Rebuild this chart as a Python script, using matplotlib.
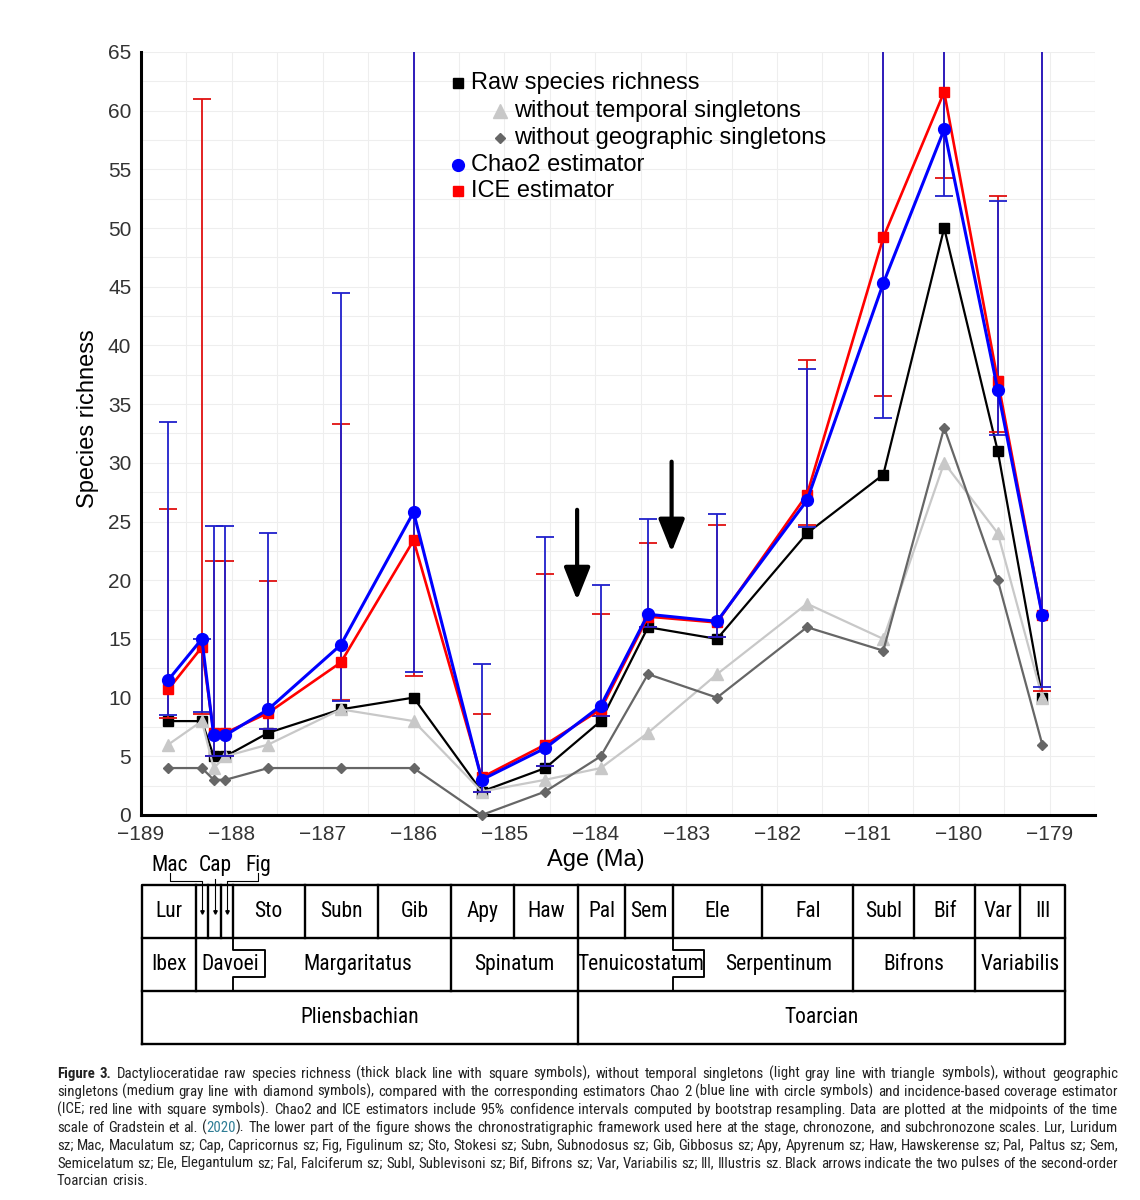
import numpy as np
import matplotlib
matplotlib.use("Agg")
import matplotlib.pyplot as plt
from matplotlib import font_manager

# ---- data ----
# ages are the subchronozone midpoints (Ma, negative = before present)
ages = [-188.70, -188.33, -188.20, -188.07, -187.60, -186.80, -186.00, -185.25,
        -184.55, -183.94, -183.42, -182.66, -181.67, -180.83, -180.16, -179.57, -179.08]
raw = [8, 8, 5, 5, 7, 9, 10, 2, 4, 8, 16, 15, 24, 29, 50, 31, 10]
no_temporal = [6, 8, 4, 5, 6, 9, 8, 2, 3, 4, 7, 12, 18, 15, 30, 24, 10]
no_geographic = [4, 4, 3, 3, 4, 4, 4, 0, 2, 5, 12, 10, 16, 14, 33, 20, 6]

chao2 = [11.5, 15.0, 6.8, 6.8, 9.0, 14.5, 25.8, 3.0, 5.7, 9.3, 17.1, 16.5, 26.8, 45.3, 58.4, 36.2, 17.0]
chao2_lo = [8.5, 8.8, 5.0, 5.0, 7.3, 9.7, 12.2, 2.0, 4.2, 8.4, 16.0, 15.2, 24.5, 33.8, 52.7, 32.4, 10.9]
chao2_hi = [33.5, 15.0, 24.6, 24.6, 24.0, 44.5, 80.0, 12.9, 23.7, 19.6, 25.2, 25.6, 38.0, 80.0, 80.0, 52.3, 80.0]

ice = [10.7, 14.3, 7.0, 7.0, 8.7, 13.0, 23.4, 3.2, 6.0, 9.0, 16.9, 16.4, 27.3, 49.2, 61.6, 37.0, 17.0]
ice_lo = [8.3, 8.6, 5.0, 5.0, 7.3, 9.8, 11.8, 2.0, 4.2, 8.4, 16.0, 15.2, 24.7, 35.7, 54.3, 32.6, 10.6]
ice_hi = [26.1, 61.0, 21.6, 21.6, 19.9, 33.3, 80.0, 8.6, 20.5, 17.1, 23.2, 24.7, 38.8, 80.0, 80.0, 52.7, 80.0]

# arrows (pulses of the Toarcian crisis): age, tail, head
arrow_ages = [-184.20, -183.16]
arrow_tail = [26.0, 30.1]
arrow_head = [18.3, 22.4]

# chronostratigraphic framework (Ma)
sub_edges = [-188.99, -188.40, -188.26, -188.12, -187.99, -187.20, -186.39, -185.59, -184.90,
             -184.19, -183.67, -183.15, -182.16, -181.16, -180.49, -179.82, -179.32, -178.83]
sub_labels = ["Lur", "", "", "", "Sto", "Subn", "Gib", "Apy", "Haw",
              "Pal", "Sem", "Ele", "Fal", "Subl", "Bif", "Var", "Ill"]
chrono_edges = [-188.99, -188.40, -187.99, -185.59, -184.19, -183.15, -181.16, -179.82, -178.83]
chrono_notch = {2: -187.64, 5: -182.80}
chrono_labels = ["Ibex", "Davoei", "Margaritatus", "Spinatum", "Tenuicostatum",
                 "Serpentinum", "Bifrons", "Variabilis"]
stage_edges = [-188.99, -184.19, -178.83]
stage_labels = ["Pliensbachian", "Toarcian"]

caption_lines = [
    "Figure 3. Dactylioceratidae raw species richness (thick black line with square symbols), without temporal singletons (light gray line with triangle symbols), without geographic",
    "singletons (medium gray line with diamond symbols), compared with the corresponding estimators Chao 2 (blue line with circle symbols) and incidence-based coverage estimator",
    "(ICE; red line with square symbols). Chao2 and ICE estimators include 95% confidence intervals computed by bootstrap resampling. Data are plotted at the midpoints of the time",
    "scale of Gradstein et al. (2020). The lower part of the figure shows the chronostratigraphic framework used here at the stage, chronozone, and subchronozone scales. Lur, Luridum",
    "sz; Mac, Maculatum sz; Cap, Capricornus sz; Fig, Figulinum sz; Sto, Stokesi sz; Subn, Subnodosus sz; Gib, Gibbosus sz; Apy, Apyrenum sz; Haw, Hawskerense sz; Pal, Paltus sz; Sem,",
    "Semicelatum sz; Ele, Elegantulum sz; Fal, Falciferum sz; Subl, Sublevisoni sz; Bif, Bifrons sz; Var, Variabilis sz; Ill, Illustris sz. Black arrows indicate the two pulses of the second-order",
    "Toarcian crisis.",
]

# ---- fonts ----
names = {f.name for f in font_manager.fontManager.ttflist}
main_font = "Liberation Sans"
narrow = None
for cand in ["Liberation Sans Narrow", "Roboto Condensed", "Open Sans Condensed", "Noto Sans Condensed"]:
    if cand in names:
        narrow = cand
        break
plt.rcParams["font.family"] = [main_font, "DejaVu Sans"]
table_font = narrow if narrow else main_font
table_fs = 15.5 if narrow else 13.5
cap_font = narrow if narrow else "Open Sans"

fig = plt.figure(figsize=(11.4, 12), dpi=100)

# ---- main plot ----
ax = fig.add_axes([141 / 1140, 385 / 1200, 954 / 1140, 763 / 1200])
ax.set_xlim(-189, -178.52)
ax.set_ylim(0, 65)
ax.set_xticks(range(-189, -178))
ax.set_yticks(range(0, 66, 5))
ax.set_xticks(np.arange(-189, -178.4, 0.5), minor=True)
ax.set_yticks(np.arange(0, 65.1, 2.5), minor=True)
ax.grid(which="both", color="#eeeeee", lw=0.8)
ax.set_axisbelow(True)
ax.tick_params(which="both", length=0, labelsize=15, labelcolor="#333333")
ax.tick_params(axis="x", pad=7)
ax.tick_params(axis="y", pad=7)
for s in ["top", "right"]:
    ax.spines[s].set_visible(False)
for s in ["left", "bottom"]:
    ax.spines[s].set_linewidth(2.2)

ax.plot(ages, raw, color="black", lw=1.6, marker="s", ms=7.5, zorder=3)
ax.plot(ages, no_temporal, color="#c8c8c8", lw=1.6, marker="^", ms=9, zorder=4)
ax.plot(ages, no_geographic, color="#666666", lw=1.6, marker="D", ms=5.5, zorder=4.5, clip_on=False)

ice_a = np.array(ice)
chao_a = np.array(chao2)
ax.errorbar(ages, ice, yerr=[ice_a - np.array(ice_lo), np.array(ice_hi) - ice_a], fmt="none",
            ecolor="#e01010", elinewidth=1.3, capsize=6.5, capthick=1.3, zorder=5)
ax.errorbar(ages, chao2, yerr=[chao_a - np.array(chao2_lo), np.array(chao2_hi) - chao_a], fmt="none",
            ecolor="#2020cc", elinewidth=1.3, capsize=6.5, capthick=1.3, zorder=5.1)
ax.plot(ages, ice, color="#ff0000", lw=1.9, marker="s", ms=7.5, zorder=6)
ax.plot(ages, chao2, color="#0000ff", lw=2.2, marker="o", ms=8.5, zorder=7)

for xa, yt, yh in zip(arrow_ages, arrow_tail, arrow_head):
    ax.annotate("", xy=(xa, yh), xytext=(xa, yt),
                arrowprops=dict(arrowstyle="-|>,head_length=0.8,head_width=0.32", color="black",
                                lw=3, mutation_scale=25, shrinkA=0, shrinkB=0), zorder=8)

ax.text(-0.0556, 0.519, "Species richness", transform=ax.transAxes, rotation=90,
        ha="center", va="center", fontsize=17)
ax.text(0.477, -0.059, "Age (Ma)", transform=ax.transAxes, ha="center", va="center", fontsize=17)

# legend drawn by hand (two entries are indented)
leg = [
    ("Raw species richness", "s", "black", 7.5, 0.332, 0.346, 0.959),
    ("without temporal singletons", "^", "#c8c8c8", 9.5, 0.376, 0.391, 0.923),
    ("without geographic singletons", "D", "#666666", 5.5, 0.376, 0.391, 0.887),
    ("Chao2 estimator", "o", "#0000ff", 8.5, 0.332, 0.346, 0.852),
    ("ICE estimator", "s", "#ff0000", 7.5, 0.332, 0.346, 0.818),
]
for label, mk, col, size, mx, tx, ty in leg:
    ax.plot([mx], [ty], transform=ax.transAxes, marker=mk, color=col, ms=size, ls="none", zorder=9)
    ax.text(tx, ty, label, transform=ax.transAxes, ha="left", va="center", fontsize=17, zorder=9)

# ---- chronostratigraphic table ----
tax = fig.add_axes([141 / 1140, 156 / 1200, 954 / 1140, 159 / 1200])
tax.set_xlim(ax.get_xlim())
tax.set_ylim(0, 3)
tax.axis("off")
lw_t = 1.7
x0, x1 = stage_edges[0], stage_edges[-1]
tax.plot([x0, x1, x1, x0, x0], [0, 0, 3, 3, 0], color="black", lw=lw_t, clip_on=False)
for yy in [1, 2]:
    tax.plot([x0, x1], [yy, yy], color="black", lw=lw_t, clip_on=False)
tf = dict(family=[table_font, "DejaVu Sans"], fontsize=table_fs, ha="center", va="center")

for i, lab in enumerate(sub_labels):
    if i > 0:
        tax.plot([sub_edges[i]] * 2, [2, 3], color="black", lw=lw_t, clip_on=False)
    if lab:
        tax.text((sub_edges[i] + sub_edges[i + 1]) / 2, 2.5, lab, **tf)

nt, nb = 1.774, 1.264
for i, lab in enumerate(chrono_labels):
    b = chrono_edges[i]
    if i > 0:
        if i in chrono_notch:
            n = chrono_notch[i]
            tax.plot([b, b, n, n, b, b], [2, nt, nt, nb, nb, 1], color="black", lw=lw_t * 0.8, clip_on=False)
        else:
            tax.plot([b, b], [1, 2], color="black", lw=lw_t, clip_on=False)
    left = chrono_notch.get(i, chrono_edges[i])
    right = chrono_notch.get(i + 1, chrono_edges[i + 1])
    tax.text((left + right) / 2, 1.5, lab, **tf)

for i, lab in enumerate(stage_labels):
    if i > 0:
        tax.plot([stage_edges[i]] * 2, [0, 1], color="black", lw=lw_t, clip_on=False)
    tax.text((stage_edges[i] + stage_edges[i + 1]) / 2, 0.5, lab, **tf)

# Mac / Cap / Fig call-outs above the thin cells
small = ["Mac", "Cap", "Fig"]
small_x = [-188.68, -188.18, -187.71]
for k, (lab, lx) in enumerate(zip(small, small_x)):
    tax.text(lx, 3.36, lab, **tf)
    cx = (sub_edges[k + 1] + sub_edges[k + 2]) / 2
    if k == 1:
        xs, ys = [cx, cx], [3.11, 2.5]
    else:
        xs, ys = [lx, lx, cx, cx], [3.22, 3.08, 3.08, 2.5]
    tax.plot(xs, ys, color="black", lw=0.8, clip_on=False)
    tax.plot([cx], [2.5], marker="v", ms=2.5, color="black", clip_on=False)

# ---- caption (justified) ----
pax = fig.add_axes([0, 0, 1, 1], zorder=-1)
pax.set_xlim(0, 1140)
pax.set_ylim(1200, 0)
pax.axis("off")
renderer = fig.canvas.get_renderer()


def segments(li, wi, word):
    if li == 0 and wi < 2:
        return [(word, "bold", "#222222")]
    if "2020" in word:
        a, b = word.split("2020")
        return [(a, "normal", "#222222"), ("2020", "normal", "#2f7d95"), (b, "normal", "#222222")]
    return [(word, "normal", "#222222")]


def seg_width(txt, weight, fs):
    t = pax.text(0, 0, txt, family=[cap_font, "DejaVu Sans"], fontsize=fs, fontweight=weight)
    w = t.get_window_extent(renderer).width
    t.remove()
    return w


left_x, right_x = 57, 1118
fs0 = 10
words = [ln.split(" ") for ln in caption_lines]
space0 = seg_width("a a", "normal", fs0) - seg_width("aa", "normal", fs0)
nat = []
for li, ws in enumerate(words):
    tot = sum(seg_width(s, w, fs0) for wi, wd in enumerate(ws) for s, w, c in segments(li, wi, wd) if s)
    nat.append(tot + space0 * (len(ws) - 1))
fs_cap = fs0 * (right_x - left_x) / max(nat[:-1]) * 0.995
space = space0 * fs_cap / fs0

for li, ws in enumerate(words):
    segs = [[(s, w, c, seg_width(s, w, fs_cap)) for s, w, c in segments(li, wi, wd) if s]
            for wi, wd in enumerate(ws)]
    wlens = [sum(p[3] for p in sg) for sg in segs]
    if li < len(words) - 1 and len(ws) > 1:
        gap = (right_x - left_x - sum(wlens)) / (len(ws) - 1)
    else:
        gap = space
    x = left_x
    y = 1078 + li * 17.9
    for sg, wl in zip(segs, wlens):
        xx = x
        for s, w, c, sw in sg:
            pax.text(xx, y, s, family=[cap_font, "DejaVu Sans"], fontsize=fs_cap, fontweight=w,
                     color=c, ha="left", va="baseline")
            xx += sw
        x += wl + gap

fig.savefig("out.png", dpi=100)
